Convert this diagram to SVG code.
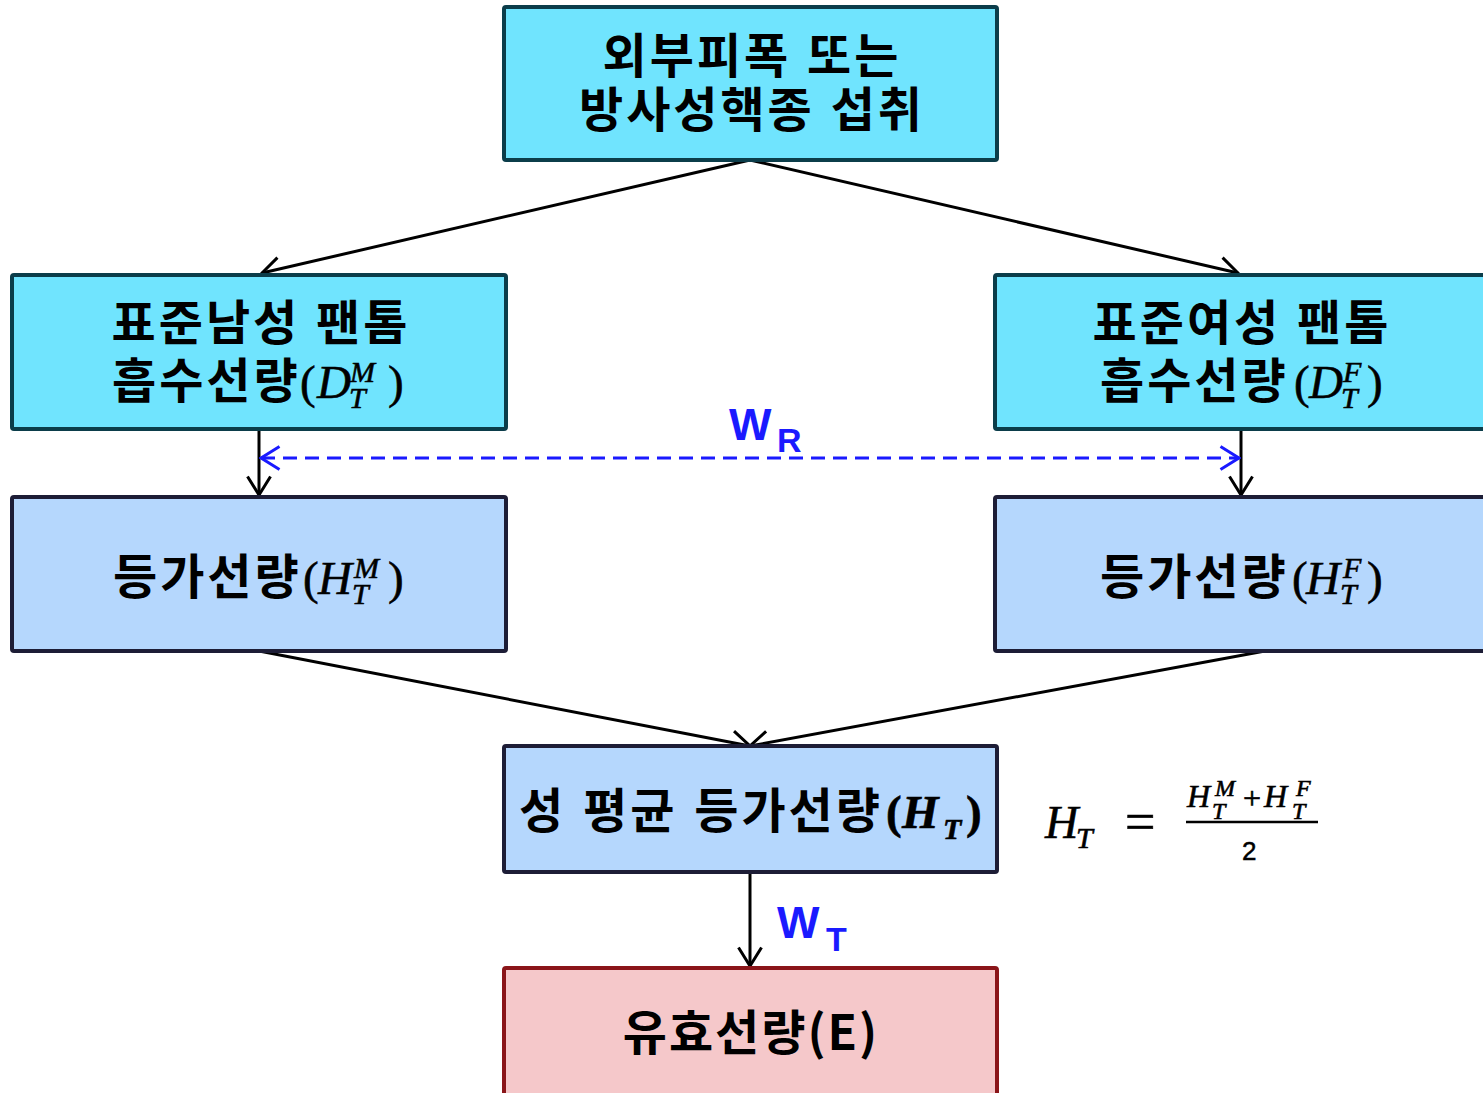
<svg xmlns="http://www.w3.org/2000/svg" width="1483" height="1093" viewBox="0 0 1483 1093">
<defs>
<style>
.kr{font-family:"Noto Sans CJK KR","Noto Sans",sans-serif;font-weight:700;font-size:48px;letter-spacing:3px;word-spacing:2px;fill:#000}
.mx{font-family:"Liberation Serif","DejaVu Serif",serif;fill:#000;stroke:#000;stroke-width:0.6}
.i{font-style:italic}
.cyan{fill:#70e4fe;stroke:#0b3d4a;stroke-width:4}
.blue{fill:#b5d7fd;stroke:#1d1d36;stroke-width:4}
.red{fill:#f5c8ca;stroke:#8a1519;stroke-width:4}
.lbl{font-family:"Liberation Sans",Arial,sans-serif;font-weight:700;fill:#1a1aff;letter-spacing:1px}
.c{stroke:#000;stroke-width:3;fill:none}
</style>
<marker id="ah" viewBox="0 0 22 26" refX="20" refY="13" markerWidth="22" markerHeight="26" markerUnits="userSpaceOnUse" orient="auto">
<path d="M1.5,1.5 L20,13 L1.5,24.5" fill="none" stroke="#000" stroke-width="3"/>
</marker>
<marker id="ahb" viewBox="0 0 22 26" refX="20" refY="13" markerWidth="22" markerHeight="26" markerUnits="userSpaceOnUse" orient="auto-start-reverse">
<path d="M1.5,1.5 L20,13 L1.5,24.5" fill="none" stroke="#1a1aff" stroke-width="3"/>
</marker>
</defs>
<rect width="1483" height="1093" fill="#fff"/>

<g id="connectors">
<line class="c" x1="750" y1="160" x2="262" y2="273" marker-end="url(#ah)"/>
<line class="c" x1="750" y1="160" x2="1238" y2="273" marker-end="url(#ah)"/>
<line class="c" x1="259" y1="429" x2="259" y2="495" marker-end="url(#ah)"/>
<line class="c" x1="1241" y1="429" x2="1241" y2="495" marker-end="url(#ah)"/>
<line x1="261" y1="458" x2="1239" y2="458" stroke="#1a1aff" stroke-width="3" stroke-dasharray="14 8" marker-start="url(#ahb)" marker-end="url(#ahb)"/>
<line class="c" x1="259" y1="651" x2="750" y2="746" marker-end="url(#ah)"/>
<line class="c" x1="1265" y1="651" x2="750" y2="746" marker-end="url(#ah)"/>
<line class="c" x1="750" y1="872" x2="750" y2="966" marker-end="url(#ah)"/>
<text class="lbl" x="729" y="440" font-size="45">W<tspan font-size="34" x="777" y="452">R</tspan></text>
<text class="lbl" x="777" y="938" font-size="45">W<tspan font-size="34" x="826" y="951">T</tspan></text>
</g>

<g id="n-intake">
<rect class="cyan" x="504" y="7" width="493" height="153" rx="2"/>
<text class="kr" text-anchor="middle"><tspan x="752" y="73">외부피폭 또는</tspan><tspan x="752" y="127">방사성핵종 섭취</tspan></text>
</g>

<g id="n-male-phantom">
<rect class="cyan" x="12" y="275" width="494" height="154" rx="2"/>
<text class="kr" x="261" y="340" text-anchor="middle">표준남성 팬톰</text>
<text class="kr" x="112" y="398">흡수선량</text>
<text class="mx" font-size="47"><tspan x="300" y="398">(</tspan><tspan class="i" x="317" y="398">D</tspan><tspan class="i" font-size="30" x="350" y="382">M</tspan><tspan class="i" font-size="30" x="349" y="408">T</tspan><tspan x="388" y="398">)</tspan></text>
</g>

<g id="n-female-phantom">
<rect class="cyan" x="995" y="275" width="500" height="154" rx="2"/>
<text class="kr" x="1242" y="340" text-anchor="middle">표준여성 팬톰</text>
<text class="kr" x="1100" y="398">흡수선량</text>
<text class="mx" font-size="47"><tspan x="1294" y="398">(</tspan><tspan class="i" x="1309" y="398">D</tspan><tspan class="i" font-size="30" x="1343" y="382">F</tspan><tspan class="i" font-size="30" x="1341" y="408">T</tspan><tspan x="1367" y="398">)</tspan></text>
</g>

<g id="n-male-equiv">
<rect class="blue" x="12" y="497" width="494" height="154" rx="2"/>
<text class="kr" x="113" y="594">등가선량</text>
<text class="mx" font-size="47"><tspan x="303" y="594">(</tspan><tspan class="i" x="318" y="594">H</tspan><tspan class="i" font-size="30" x="354" y="578">M</tspan><tspan class="i" font-size="30" x="352" y="604">T</tspan><tspan x="388" y="594">)</tspan></text>
</g>

<g id="n-female-equiv">
<rect class="blue" x="995" y="497" width="500" height="154" rx="2"/>
<text class="kr" x="1100" y="594">등가선량</text>
<text class="mx" font-size="47"><tspan x="1292" y="594">(</tspan><tspan class="i" x="1306" y="594">H</tspan><tspan class="i" font-size="30" x="1343" y="578">F</tspan><tspan class="i" font-size="30" x="1340" y="604">T</tspan><tspan x="1367" y="594">)</tspan></text>
</g>

<g id="n-sex-avg">
<rect class="blue" x="504" y="746" width="493" height="126" rx="2"/>
<text class="kr" x="519" y="828" style="letter-spacing:3px;word-spacing:3px">성 평균 등가선량</text>
<text class="mx" font-size="47" font-weight="700"><tspan x="886" y="828">(</tspan><tspan class="i" x="902" y="828">H</tspan><tspan class="i" font-size="30" x="943" y="839">T</tspan><tspan x="966" y="828">)</tspan></text>
</g>

<g id="formula">
<text class="mx i" font-size="46"><tspan x="1045" y="838">H</tspan><tspan font-size="30" x="1076" y="848">T</tspan></text>
<text class="mx" x="1125" y="840" font-size="54" stroke-width="0">=</text>
<line x1="1186" y1="822" x2="1318" y2="822" stroke="#000" stroke-width="2.5"/>
<text class="mx i" font-size="32"><tspan x="1187" y="807">H</tspan><tspan font-size="24" x="1215" y="796">M</tspan><tspan font-size="24" x="1212" y="819">T</tspan><tspan font-style="normal" font-size="32" x="1243" y="809">+</tspan><tspan x="1264" y="807">H</tspan><tspan font-size="24" x="1296" y="796">F</tspan><tspan font-size="24" x="1292" y="819">T</tspan></text>
<text x="1242" y="860" font-family="Liberation Sans,Arial,sans-serif" font-size="26" fill="#000" stroke="#000" stroke-width="0.5">2</text>
</g>

<g id="n-effective">
<rect class="red" x="504" y="968" width="493" height="130" rx="2"/>
<text class="kr" x="751" y="1050" text-anchor="middle" style="letter-spacing:2px">유효선량(E)</text>
</g>
</svg>
